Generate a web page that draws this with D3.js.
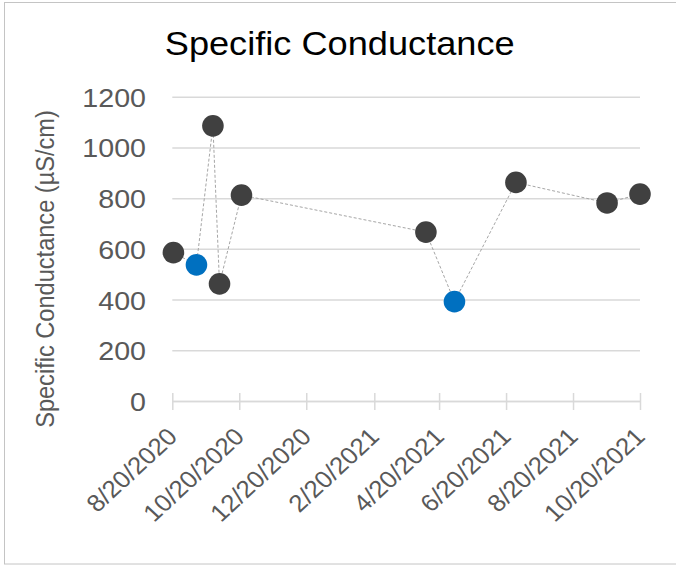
<!DOCTYPE html>
<html>
<head>
<meta charset="utf-8">
<script src="https://cdn.jsdelivr.net/npm/d3@7"></script>
<style>
  body { margin: 0; background: #fff; }
  text { font-family: "Liberation Sans", Arial, sans-serif; }
</style>
</head>
<body>
<svg id="chart" width="676" height="565"></svg>
<script>
// sample dates and specific conductance readings (uS/cm)
var sampleDates = ["8/21/2020", "9/11/2020", "9/26/2020", "10/2/2020", "10/22/2020",
  "4/8/2021", "5/4/2021", "6/29/2021", "9/20/2021", "10/20/2021"]
var conductance = [585, 537, 1085, 462, 812, 666, 392, 862, 781, 816]
// points drawn in blue
var flagged = [false, true, false, false, false, false, true, false, false, false]

var xTickLabels = ["8/20/2020", "10/20/2020", "12/20/2020", "2/20/2021",
  "4/20/2021", "6/20/2021", "8/20/2021", "10/20/2021"]
var yTicks = [0, 200, 400, 600, 800, 1000, 1200]

var parse = d3.timeParse("%m/%d/%Y")
var fmt = d3.timeFormat("%-m/%-d/%Y")
var stretch = "scale(1.08,1)"  // the original is a little wider than tall

var data = sampleDates.map((d, i) => ({date: parse(d), value: conductance[i], flag: flagged[i]}))
var tickDates = xTickLabels.map(parse)

var svg = d3.select("#chart")

// outer chart border
svg.append("rect")
  .attr("x", 4.5).attr("y", 2.5)
  .attr("width", 700).attr("height", 561.5)
  .attr("fill", "#fff")
  .attr("stroke", "#c4c4c4")

var x = d3.scaleTime()
  .domain([tickDates[0], tickDates[tickDates.length - 1]])
  .range([172.3, 640])
var y = d3.scaleLinear()
  .domain([0, 1200])
  .range([401, 96.7])

// y gridlines + labels
var yAxis = svg.append("g")
  .attr("transform", `translate(${x.range()[0]},0)`)
  .call(d3.axisLeft(y).tickValues(yTicks).tickFormat(d3.format("d"))
    .tickSize(-(x.range()[1] - x.range()[0])))
yAxis.select(".domain").remove()
yAxis.selectAll("line")
  .attr("stroke", "#d9d9d9")
  .attr("stroke-width", 1.5)
yAxis.selectAll("text")
  .attr("x", null)
  .attr("transform", `translate(-26.3,0) ${stretch}`)
  .attr("dy", "0.36em")
  .attr("fill", "#595959")
  .style("font-size", "26.5px")
  .style("font-family", "'Liberation Sans', Arial, sans-serif")

// x axis with crossing tick marks
var xAxis = svg.append("g")
  .attr("transform", `translate(0,${y(0)})`)
  .call(d3.axisBottom(x).tickValues(tickDates).tickFormat(fmt).tickSize(9).tickSizeOuter(0))
xAxis.select(".domain")
  .attr("stroke", "#d9d9d9")
  .attr("stroke-width", 1.5)
xAxis.selectAll(".tick line")
  .attr("y1", -8)
  .attr("stroke", "#d9d9d9")
  .attr("stroke-width", 1.5)
xAxis.selectAll("text")
  .attr("y", null)
  .attr("dy", null)
  .attr("transform", `translate(6,37) ${stretch} rotate(-45)`)
  .attr("fill", "#595959")
  .style("text-anchor", "end")
  .style("font-size", "24px")
  .style("font-family", "'Liberation Sans', Arial, sans-serif")

// dotted connecting line
var line = d3.line()
  .x(d => x(d.date))
  .y(d => y(d.value))

svg.append("path")
  .datum(data)
  .attr("d", line)
  .attr("fill", "none")
  .attr("stroke", "#a6a6a6")
  .attr("stroke-width", 1)
  .attr("stroke-dasharray", "3,2")

svg.selectAll("circle.pt")
  .data(data)
  .enter()
  .append("circle")
  .attr("class", "pt")
  .attr("cx", d => x(d.date))
  .attr("cy", d => y(d.value))
  .attr("r", 10.8)
  .attr("fill", d => d.flag ? "#0070c0" : "#404040")

// title
svg.append("text")
  .attr("transform", `translate(339.7,55) ${stretch}`)
  .attr("text-anchor", "middle")
  .attr("fill", "#000")
  .style("font-size", "33.5px")
  .text("Specific Conductance")

// y axis title
svg.append("text")
  .attr("transform", `translate(53.5,269) ${stretch} rotate(-90)`)
  .attr("text-anchor", "middle")
  .attr("fill", "#595959")
  .style("font-size", "23.6px")
  .text("Specific Conductance (µS/cm)")
</script>
</body>
</html>
